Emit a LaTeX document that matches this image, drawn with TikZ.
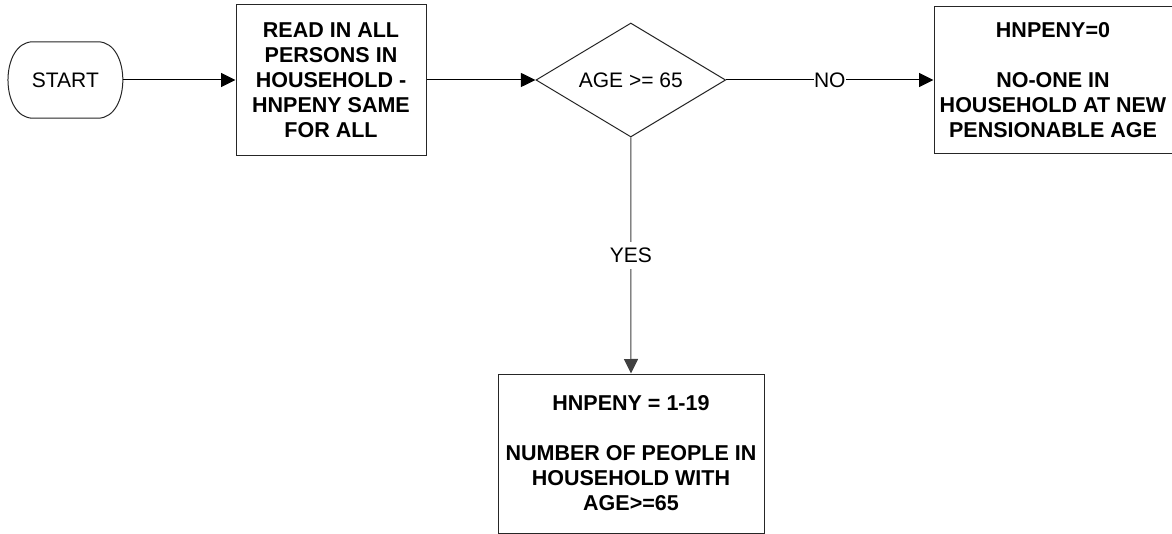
\documentclass[tikz,border=0pt]{standalone}
\usepackage{fontspec}
\setmainfont{Liberation Sans}
\usetikzlibrary{arrows.meta,shapes.geometric}
\tikzset{
  reg/.style={font=\fontsize{21}{25}\selectfont},
  bld/.style={font=\fontsize{21.5}{25}\selectfont\bfseries},
  procbox/.style={draw=black!85, line width=1pt, inner sep=0pt, align=center, bld},
  conn/.style={draw=black, line width=1pt},
  arr/.style={conn, -{Triangle[length=14.5pt,width=14pt]}},
  lbl/.style={fill=white, reg, inner xsep=0pt, inner ysep=6pt}
}
\begin{document}
\begin{tikzpicture}[x=1pt,y=-1pt]
\useasboundingbox[fill=white] (0,0) rectangle (1172,534);
% start terminator
\node[reg, inner sep=0pt, minimum width=114.5pt, minimum height=76pt] (start) at (65.4,80) {START};
\draw[draw=black!85, line width=1pt]
  ([xshift=25pt]start.north west) -- ([xshift=-25pt]start.north east)
  .. controls ([xshift=8.3pt]start.north east) and ([xshift=8.3pt]start.south east) .. ([xshift=-25pt]start.south east)
  -- ([xshift=25pt]start.south west)
  .. controls ([xshift=-8.3pt]start.south west) and ([xshift=-8.3pt]start.north west) .. cycle;
% read box
\node[procbox, minimum width=190pt, minimum height=151pt] (read) at (331,80)
  {READ IN ALL\\PERSONS IN\\HOUSEHOLD -\\HNPENY SAME\\FOR ALL};
% decision
\node[diamond, draw=black!85, line width=1pt, inner sep=0pt, aspect=1.66,
      minimum width=189.7pt, minimum height=114pt, reg] (dec) at (630.8,80) {AGE >= 65};
% no box
\node[procbox, minimum width=238pt, minimum height=146.5pt] (nobox) at (1053,80)
  {HNPENY=0\\[25pt]NO-ONE IN\\HOUSEHOLD AT NEW\\PENSIONABLE AGE};
% yes box
\node[procbox, minimum width=266pt, minimum height=159pt] (yesbox) at (631,453.5)
  {HNPENY = 1-19\\[25pt]NUMBER OF PEOPLE IN\\HOUSEHOLD WITH\\AGE>=65};
% connectors
\draw[arr] (start.east) -- (read.west);
\draw[arr] (read.east) -- (dec.west);
\draw[arr] (dec.east) -- node[lbl, inner ysep=2pt] {NO} (nobox.west);
\draw[arr, draw=black!75] (dec.south) -- node[lbl] {YES} (yesbox.north);
\end{tikzpicture}
\end{document}
